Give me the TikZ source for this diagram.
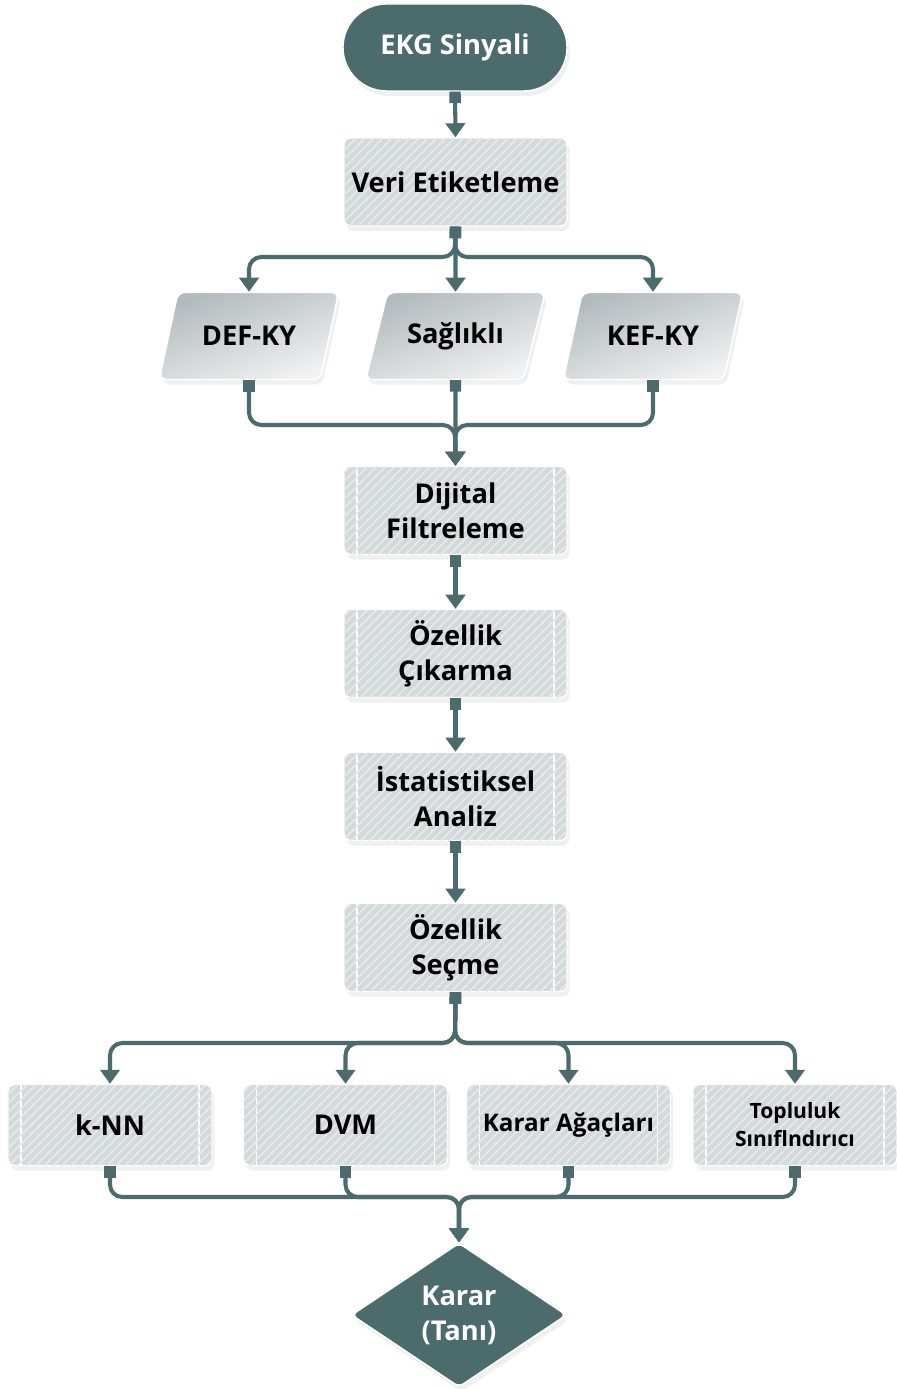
\documentclass[tikz,border=0pt]{standalone}
\usepackage{fontspec}
\setmainfont{Open Sans}
\usetikzlibrary{arrows.meta,shapes.geometric,shadows,patterns.meta}
\definecolor{ekgteal}{HTML}{4B6B6D}
\definecolor{boxgray}{HTML}{D3D8DA}
\definecolor{stripe}{HTML}{E6E9EA}
\definecolor{iotop}{HTML}{B3BABD}
\definecolor{iobot}{HTML}{F0F2F3}
\tikzset{
    >={Triangle[width=11pt,length=8pt]},
    lbl/.style={font=\fontsize{15.5}{20}\selectfont\bfseries, align=center},
    soft shade/.style={drop shadow={opacity=0.12,shadow xshift=0.5mm,shadow yshift=-1mm}},
    link/.style={draw=ekgteal, line width=2.3pt, rounded corners=7pt, {Square[length=6.5pt,width=6.5pt]}->},
    terminal/.style={rectangle, rounded corners=0.87cm, minimum width=4.48cm, minimum height=1.74cm,
        fill=ekgteal, draw=white, line width=0.8pt, text=white, lbl, soft shade},
    plainbox/.style={rectangle, rounded corners=4pt, minimum width=4.46cm, minimum height=1.76cm,
        fill=boxgray, draw=white, line width=0.8pt, lbl, soft shade,
        postaction={pattern={Lines[angle=45,distance=3.6pt,line width=1pt]}, pattern color=stripe}},
    predef/.style={plainbox,
        path picture={\draw[white, line width=1pt]
            ([xshift=0.26cm]path picture bounding box.north west) -- ([xshift=0.26cm]path picture bounding box.south west)
            ([xshift=-0.26cm]path picture bounding box.north east) -- ([xshift=-0.26cm]path picture bounding box.south east);}},
    method/.style={predef, minimum width=4.08cm, minimum height=1.62cm},
    dataio/.style={trapezium, trapezium left angle=66, trapezium right angle=114, trapezium stretches=true,
        minimum width=3.6cm, minimum height=1.74cm, rounded corners=4pt, draw=white, line width=0.8pt,
        top color=iotop, bottom color=iobot, shading angle=20, lbl, soft shade},
    decision/.style={diamond, rounded corners=3pt, minimum width=4.3cm, minimum height=2.88cm, inner sep=0pt,
        fill=ekgteal, draw=white, line width=0.8pt, text=white, lbl, soft shade}
}

\begin{document}
\begin{tikzpicture}
    \useasboundingbox (0,0) rectangle (17.92,-27.78);

    \coordinate (B1) at (9.1,-5.14);
    \coordinate (J1) at (9.1,-8.5);
    \coordinate (B2) at (9.1,-20.86);
    \coordinate (J2) at (9.18,-23.94);

    \node[terminal] (ekg) at (9.1,-0.95) {EKG Sinyali};
    \node[plainbox] (veri) at (9.11,-3.64) {Veri Etiketleme};

    \node[dataio] (def) at (4.98,-6.72) {DEF-KY};
    \node[dataio] (sag) at (9.11,-6.72) {Sağlıklı};
    \node[dataio] (kef) at (13.06,-6.72) {KEF-KY};

    \node[predef] (dij) at (9.11,-10.21) {Dijital\\Filtreleme};
    \node[predef] (cik) at (9.11,-13.07) {Özellik\\Çıkarma};
    \node[predef] (ist) at (9.11,-15.93) {İstatistiksel\\Analiz};
    \node[predef] (sec) at (9.11,-18.95) {Özellik\\Seçme};

    \node[method] (knn) at (2.2,-22.5) {k-NN};
    \node[method] (dvm) at (6.91,-22.5) {DVM};
    \node[method, font=\fontsize{13.8}{18}\selectfont\bfseries] (agac) at (11.37,-22.5) {Karar Ağaçları};
    \node[method, font=\fontsize{12}{16}\selectfont\bfseries] (top) at (15.9,-22.5) {Topluluk\\Sınıflndırıcı};

    \node[decision] (karar) at (9.18,-26.3) {Karar\\(Tanı)};

    \draw[link] (ekg.south) -- (veri.north);
    \draw[link] (veri.south) -- (B1) -| (def.north);
    \draw[link] (veri.south) -- (sag.north);
    \draw[link] (veri.south) -- (B1) -| (kef.north);

    \draw[link] (def.south) |- (J1) -- (dij.north);
    \draw[link] (sag.south) -- (dij.north);
    \draw[link] (kef.south) |- (J1) -- (dij.north);

    \draw[link] (dij.south) -- (cik.north);
    \draw[link] (cik.south) -- (ist.north);
    \draw[link] (ist.south) -- (sec.north);

    \foreach \m in {knn,dvm,agac,top}
        \draw[link] (sec.south) -- (B2) -| (\m.north);
    \foreach \m in {knn,dvm,agac,top}
        \draw[link] (\m.south) |- (J2) -- (karar.north);
\end{tikzpicture}
\end{document}
